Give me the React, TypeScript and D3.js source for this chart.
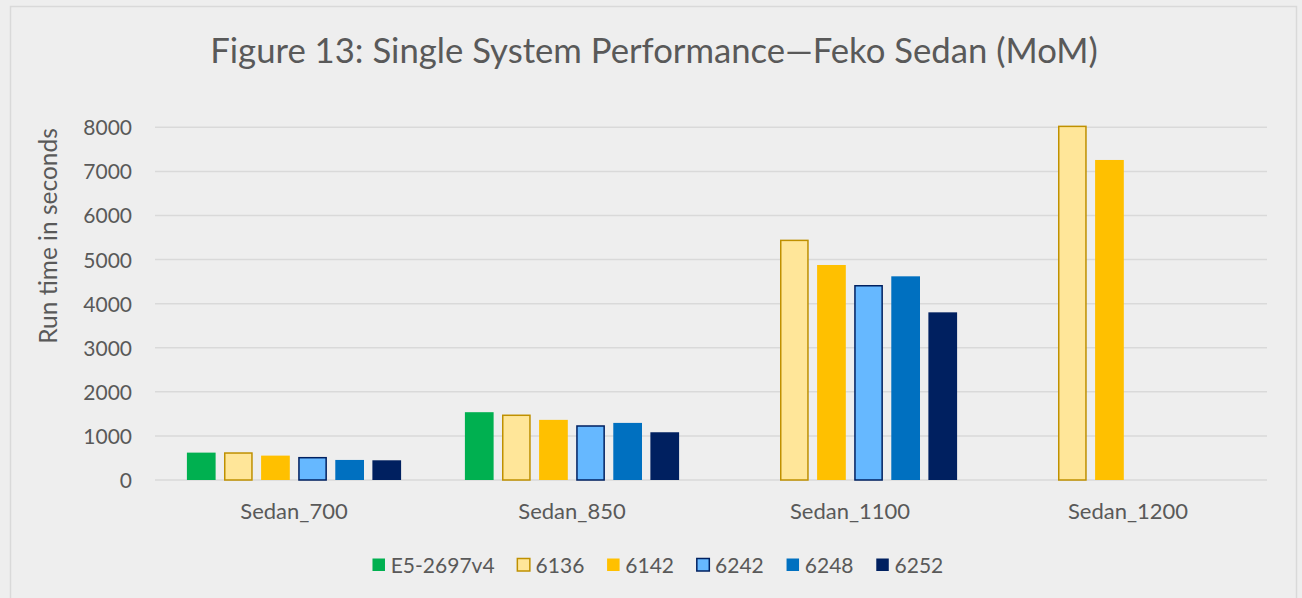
import { useEffect, useRef } from "react";
import * as d3 from "d3";

const categories = ["Sedan_700", "Sedan_850", "Sedan_1100", "Sedan_1200"];
const seriesNames = ["E5-2697v4", "6136", "6142", "6242", "6248", "6252"];

// run time in seconds, null = not run
const e5_2697v4 = [621, 1538, null, null];
const gold6136 = [629, 1485, 5452, 8038];
const gold6142 = [553, 1364, 4877, 7259];
const gold6242 = [523, 1242, 4423, null];
const gold6248 = [455, 1295, 4620, null];
const plat6252 = [447, 1083, 3803, null];

const yTicks = [0, 1000, 2000, 3000, 4000, 5000, 6000, 7000, 8000];

const fills = ["#00B050", "#FFE699", "#FFC000", "#66B8FF", "#0070C0", "#002060"];
const strokes = [null, "#BF9000", null, "#002060", null, null];

const WIDTH = 1302;
const HEIGHT = 598;
const FONT = "Lato, 'Open Sans', sans-serif";
const TEXT_COLOR = "#595959";

export default function App() {
  const svgRef = useRef<SVGSVGElement>(null);

  useEffect(() => {
    const svg = d3.select(svgRef.current);
    svg.selectAll("*").remove();

    const allSeries = [e5_2697v4, gold6136, gold6142, gold6242, gold6248, plat6252];
    const margin = { top: 127.3, bottom: 118, left: 155, right: 35 };

    // background + outer frame
    svg.append("rect")
      .attr("width", WIDTH)
      .attr("height", HEIGHT)
      .attr("fill", "#eeeeee");
    svg.append("rect")
      .attr("x", 10.5)
      .attr("y", 6.5)
      .attr("width", 1286)
      .attr("height", 610)
      .attr("fill", "#eeeeee")
      .attr("stroke", "#d9d9d9")
      .attr("stroke-width", 1.5);

    const xScale = d3.scaleBand()
      .domain(categories)
      .range([margin.left, WIDTH - margin.right]);

    const xInner = d3.scaleBand()
      .domain(seriesNames)
      .range([0, xScale.bandwidth()])
      .paddingInner(0.226)
      .paddingOuter(0.86);

    const yScale = d3.scaleLinear()
      .domain([0, 8000])
      .range([HEIGHT - margin.bottom, margin.top]);

    // gridlines
    svg.append("g")
      .selectAll("line")
      .data(yTicks)
      .join("line")
      .attr("x1", margin.left)
      .attr("x2", WIDTH - margin.right)
      .attr("y1", d => yScale(d))
      .attr("y2", d => yScale(d))
      .attr("stroke", "#d9d9d9")
      .attr("stroke-width", 1.5);

    // y tick labels
    svg.append("g")
      .selectAll("text")
      .data(yTicks)
      .join("text")
      .attr("x", 132)
      .attr("y", d => yScale(d) + 8)
      .attr("text-anchor", "end")
      .attr("font-family", FONT)
      .attr("font-size", 21)
      .attr("fill", TEXT_COLOR)
      .text(d => d);

    // bars
    const rows = categories.map((c, i) => ({
      category: c,
      values: seriesNames.map((s, j) => ({ name: s, idx: j, value: allSeries[j][i] })),
    }));

    svg.append("g")
      .selectAll("g")
      .data(rows)
      .join("g")
      .attr("transform", d => `translate(${xScale(d.category)}, 0)`)
      .selectAll("rect")
      .data(d => d.values.filter(v => v.value !== null))
      .join("rect")
      .attr("x", d => xInner(d.name)! + (strokes[d.idx] ? 0.75 : 0))
      .attr("y", d => yScale(d.value as number) + (strokes[d.idx] ? 0.75 : 0))
      .attr("width", d => xInner.bandwidth() - (strokes[d.idx] ? 1.5 : 0))
      .attr("height", d => yScale(0) - yScale(d.value as number) - (strokes[d.idx] ? 0.75 : 0))
      .attr("fill", d => fills[d.idx])
      .attr("stroke", d => strokes[d.idx] ?? "none")
      .attr("stroke-width", 1.5);

    // category labels
    svg.append("g")
      .selectAll("text")
      .data(categories)
      .join("text")
      .attr("x", d => xScale(d)! + xScale.bandwidth() / 2)
      .attr("y", 519)
      .attr("text-anchor", "middle")
      .attr("font-family", FONT)
      .attr("font-size", 22)
      .attr("fill", TEXT_COLOR)
      .text(d => d);

    // title
    svg.append("text")
      .attr("x", 654)
      .attr("y", 63)
      .attr("text-anchor", "middle")
      .attr("font-family", FONT)
      .attr("font-size", 34.7)
      .attr("fill", TEXT_COLOR)
      .text("Figure 13: Single System Performance\u2014Feko Sedan (MoM)");

    // y axis title
    svg.append("text")
      .attr("transform", "translate(57, 236) rotate(-90)")
      .attr("text-anchor", "middle")
      .attr("font-family", FONT)
      .attr("font-size", 24.5)
      .attr("fill", TEXT_COLOR)
      .text("Run time in seconds");

    // legend
    const legend = svg.append("g");
    const items = legend.selectAll("g")
      .data(seriesNames)
      .join("g");
    items.append("rect")
      .attr("x", 0.75)
      .attr("y", -6.5)
      .attr("width", 12.5)
      .attr("height", 12.5)
      .attr("fill", (d, i) => fills[i])
      .attr("stroke", (d, i) => strokes[i] ?? "none")
      .attr("stroke-width", 1.5);
    items.append("text")
      .attr("x", 19)
      .attr("y", 7.5)
      .attr("font-family", FONT)
      .attr("font-size", 21)
      .attr("fill", TEXT_COLOR)
      .text(d => d);

    let cursor = 0;
    items.each(function () {
      const g = d3.select(this);
      const w = (g.select("text").node() as SVGTextElement).getComputedTextLength();
      g.attr("transform", `translate(${cursor}, 565)`);
      cursor += 19 + w + 22;
    });
    const total = cursor - 22;
    legend.attr("transform", `translate(${657.5 - total / 2}, 0)`);
  }, []);

  return (
    <svg
      ref={svgRef}
      width={WIDTH}
      height={HEIGHT}
      style={{ position: "absolute", left: 0, top: 0 }}
    />
  );
}
